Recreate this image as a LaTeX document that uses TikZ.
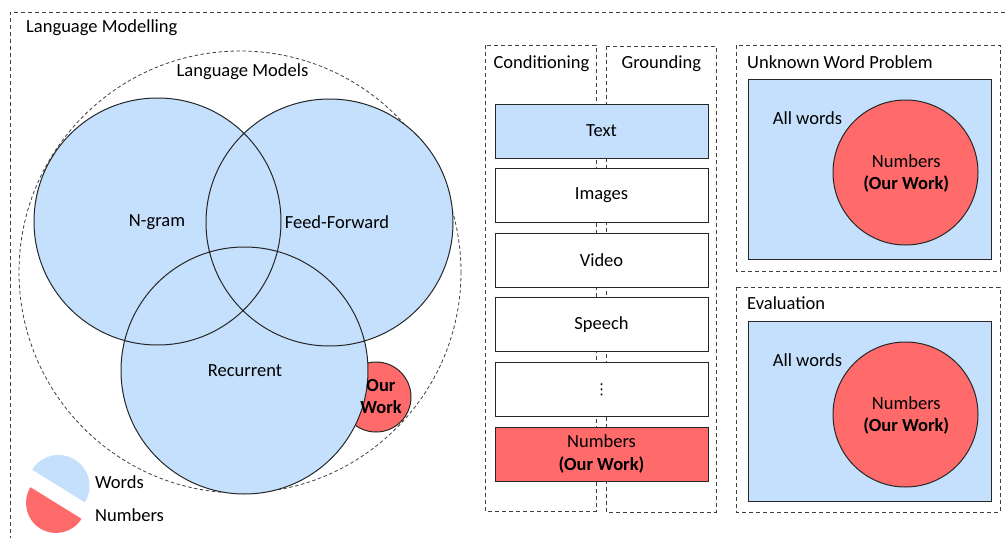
\documentclass[tikz,border=0pt]{standalone}
\usepackage{fontspec}
\setmainfont{Carlito}
\newfontfamily\symfont{DejaVu Sans}
\usetikzlibrary{positioning}
\definecolor{wordblue}{RGB}{197,224,252}
\definecolor{numred}{RGB}{255,107,107}
\definecolor{edgegray}{RGB}{38,38,38}
\tikzset{
  region/.style={draw=black!75, dash pattern=on 4pt off 3pt, line width=0.9pt},
  venn/.style={draw=edgegray, line width=1pt},
  itembox/.style={draw=edgegray, line width=1pt, fill=white,
    minimum width=213pt, minimum height=54pt, align=center},
  label/.style={font=\fontsize{18.5}{22.3}\selectfont, inner sep=0pt, align=center},
}
\begin{document}
\begin{tikzpicture}[x=1pt,y=-1pt]
      \useasboundingbox (0,0) rectangle (1005,538);
      % outer frame, cut off at the right and bottom
      \draw[region] (1005,12) -- (10,12) -- (10,538);
      \node[label, anchor=west] (lm) at (26,28) {Language Modelling};

      % language models
      \draw[region, line width=0.8pt, dash pattern=on 3.5pt off 2.5pt] (240,272) circle[radius=221];
      \node[label] (models) at (242.5,72) {Language Models};
      \filldraw[numred, venn] (376,397) circle[radius=35];
      \fill[wordblue]
        (157.5,221.5) circle[radius=123.5]
        (329.5,222.5) circle[radius=123.5]
        (244.5,370.5) circle[radius=123.5];
      \draw[venn]
        (157.5,221.5) circle[radius=123.5]
        (329.5,222.5) circle[radius=123.5]
        (244.5,370.5) circle[radius=123.5];
      \draw
        (157,222) node[label] (ngram){N-gram}
        (337,222) node[label] (ff){Feed-Forward}
        (245,371) node[label] (rnn){Recurrent}
        (381,396.5) node[label, font=\fontsize{18.5}{22.3}\selectfont\bfseries] (ours){Our\\Work};

      % legend
      \fill[wordblue] (58.5,486) ++(31.7:31) arc[start angle=31.7, end angle=-148.3, radius=31] -- cycle;
      \fill[numred] (56,503) ++(31.7:30) arc[start angle=31.7, end angle=211.7, radius=30] -- cycle;
      \node[label, anchor=west] (words) at (95,482) {Words};
      \node[label, anchor=west] (numbers) at (95,515) {Numbers};

      % conditioning and grounding
      \draw[region] (485,45) rectangle (596,511);
      \draw[region] (606,46) rectangle (716,512);
      \node[label] (cond) at (541.5,63.5) {Conditioning};
      \node[label] (ground) at (661.3,63.5) {Grounding};
      \draw
        (601.5,131) node[itembox, fill=wordblue, label] (text){Text}
        (601.5,195.6) node[itembox, label] (images){Images}
        (601.5,260.2) node[itembox, label] (video){Video}
        (601.5,324.8) node[itembox, label] (speech){Speech}
        (601.5,389.4) node[itembox, label, font=\symfont\fontsize{15}{18}\selectfont] (more){⋮}
        (601.5,454) node[itembox, fill=numred, label] (nums){Numbers\\\textbf{(Our Work)}};

      % unknown word problem
      \draw[region] (736,45) rectangle (1000,271);
      \node[label, anchor=west] (unk) at (747,62) {Unknown Word Problem};
      \filldraw[wordblue, venn] (748,79) rectangle (991,259);
      \filldraw[numred, venn] (905.5,172.5) circle[radius=72.5];
      \node[label] (unkall) at (807.5,118) {All words};
      \node[label] (unknum) at (906.3,173.8) {Numbers\\\textbf{(Our Work)}};

      % evaluation
      \draw[region] (736,287) rectangle (1000,512);
      \node[label, anchor=west] (eval) at (747,303) {Evaluation};
      \filldraw[wordblue, venn] (748,321) rectangle (991,501);
      \filldraw[numred, venn] (905.5,414.5) circle[radius=72.5];
      \node[label] (evalall) at (807.5,360) {All words};
      \node[label] (evalnum) at (906.3,415.3) {Numbers\\\textbf{(Our Work)}};
    \end{tikzpicture}
\end{document}
